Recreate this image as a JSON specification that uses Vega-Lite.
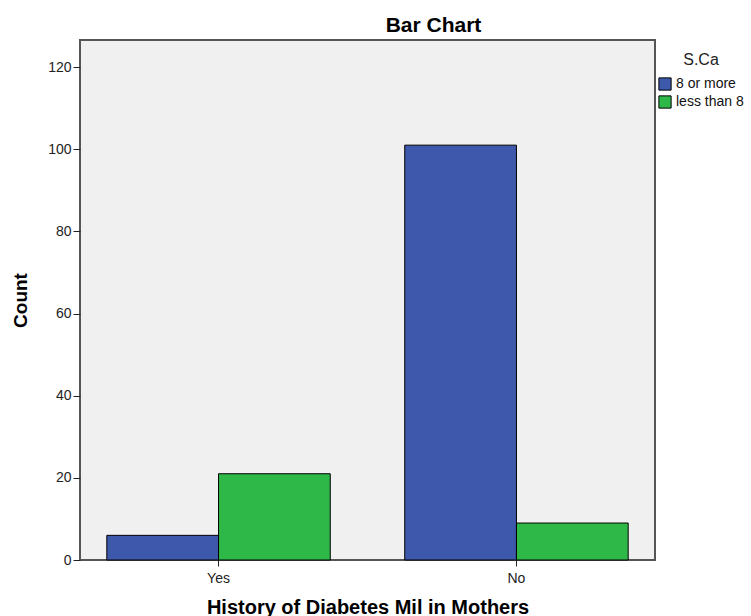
{
  "$schema": "https://vega.github.io/schema/vega-lite/v6.json",
  "autosize": {"type": "none"},
  "width": 575,
  "height": 520,
  "padding": {"left": 80, "top": 40, "right": 96, "bottom": 56},
  "background": "white",
  "title": {
    "text": "Bar Chart",
    "font": "Liberation Sans",
    "fontSize": 21,
    "fontWeight": "bold",
    "color": "black",
    "anchor": "middle",
    "frame": "group",
    "dx": 66,
    "offset": 4
  },
  "config": {
    "font": "Liberation Sans",
    "view": {"fill": "#f0f0f0", "stroke": "#555555", "strokeWidth": 2}
  },
  "data": {
    "values": [
      {"history": "Yes", "sca": "8 or more", "count": 6},
      {"history": "Yes", "sca": "less than 8", "count": 21},
      {"history": "No", "sca": "8 or more", "count": 101},
      {"history": "No", "sca": "less than 8", "count": 9}
    ]
  },
  "mark": {"type": "bar", "stroke": "black", "strokeWidth": 1, "opacity": 1},
  "encoding": {
    "x": {
      "field": "history",
      "type": "nominal",
      "sort": ["Yes", "No"],
      "scale": {"paddingInner": 0.25, "paddingOuter": 0.09},
      "axis": {
        "title": "History of Diabetes Mil in Mothers",
        "titleFontSize": 20,
        "titleFontWeight": "bold",
        "titleColor": "black",
        "titlePadding": 12,
        "labelFontSize": 14,
        "labelColor": "#222222",
        "labelAngle": 0,
        "labelPadding": 5,
        "tickSize": 6,
        "tickColor": "#222222",
        "domain": false
      }
    },
    "xOffset": {
      "field": "sca",
      "type": "nominal",
      "sort": ["8 or more", "less than 8"],
      "scale": {"paddingInner": 0, "paddingOuter": 0}
    },
    "y": {
      "field": "count",
      "type": "quantitative",
      "scale": {"domain": [0, 126.6], "nice": false},
      "axis": {
        "title": "Count",
        "titleFontSize": 19,
        "titleFontWeight": "bold",
        "titleColor": "black",
        "titlePadding": 17,
        "values": [0, 20, 40, 60, 80, 100, 120],
        "labelFontSize": 14,
        "labelColor": "#222222",
        "labelPadding": 2,
        "tickSize": 7,
        "tickColor": "#222222",
        "grid": false,
        "domain": false
      }
    },
    "color": {
      "field": "sca",
      "type": "nominal",
      "scale": {"domain": ["8 or more", "less than 8"], "range": ["#3e58ac", "#2eb848"]},
      "legend": {
        "title": "S.Ca",
        "orient": "none",
        "legendX": 578,
        "legendY": 12,
        "titleFontSize": 16,
        "titleFontWeight": "normal",
        "titleColor": "#222222",
        "titleAnchor": "middle",
        "titlePadding": 9,
        "labelFontSize": 14,
        "labelColor": "#111111",
        "labelOffset": 4,
        "symbolType": "square",
        "symbolSize": 150,
        "symbolStrokeColor": "black",
        "symbolStrokeWidth": 1,
        "symbolOpacity": 1,
        "rowPadding": 0
      }
    }
  }
}
